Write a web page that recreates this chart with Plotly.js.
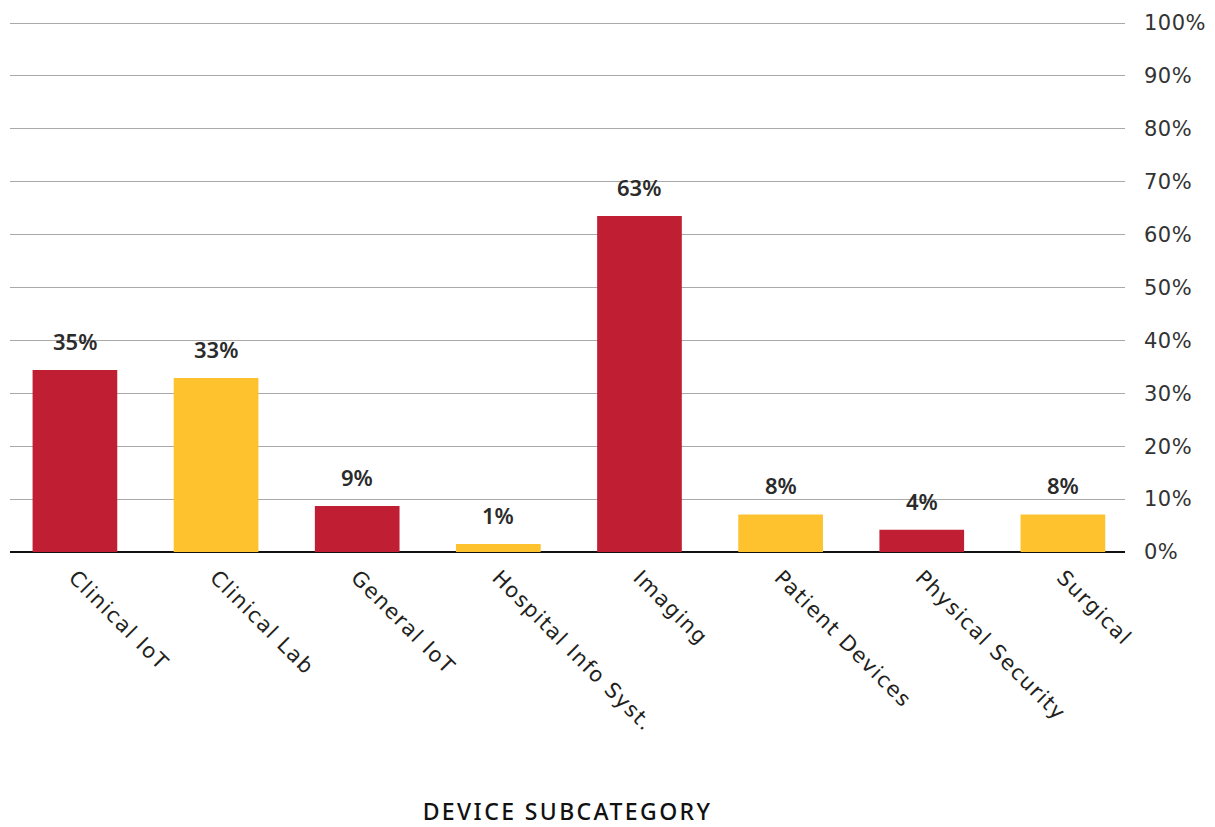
<!DOCTYPE html>
<html>
<head>
<meta charset="utf-8">
<script src="https://cdn.plot.ly/plotly-3.0.1.min.js"></script>
<style>
html,body{margin:0;padding:0;background:#fff;}
#chart{width:1215px;height:827px;}
#chart .xtick text{letter-spacing:1.4px;}
#chart .g-xtitle text{letter-spacing:2.4px;}
#chart .ytick text{letter-spacing:0.5px;}
</style>
</head>
<body>
<div id="chart"></div>
<script>
const categories = ["Clinical IoT","Clinical Lab","General IoT","Hospital Info Syst.","Imaging","Patient Devices","Physical Security","Surgical"];
const values = [34.4, 32.9, 8.7, 1.5, 63.5, 7.1, 4.2, 7.1];
const valueLabels = ["35%","33%","9%","1%","63%","8%","4%","8%"];
const barColors = ["#C01F33","#FDC22E","#C01F33","#FDC22E","#C01F33","#FDC22E","#C01F33","#FDC22E"];
const yTickVals = [0,10,20,30,40,50,60,70,80,90,100];
const yTickText = ["0%","10%","20%","30%","40%","50%","60%","70%","80%","90%","100%"];
const xTitle = "DEVICE SUBCATEGORY";

const font = "'DejaVu Sans', 'Noto Sans', sans-serif";

const trace = {
  type: "bar",
  x: categories,
  y: values,
  marker: {color: barColors, line: {width: 0}},
  hoverinfo: "x+y"
};

const annotations = categories.map((c, i) => ({
  x: c, y: values[i], xref: "x", yref: "y",
  text: valueLabels[i], showarrow: false,
  yanchor: "bottom", yshift: 12,
  font: {family: "'Noto Sans', sans-serif", size: 22, color: "#2b2b2b", weight: 600}
}));

const layout = {
  width: 1215, height: 827,
  margin: {l: 10, r: 90, t: 22, b: 275},
  paper_bgcolor: "#ffffff", plot_bgcolor: "#ffffff",
  bargap: 0.4,
  showlegend: false,
  xaxis: {
    range: [-0.46, 7.44],
    tickangle: 45,
    tickfont: {family: font, size: 21, color: "#231F20"},
    showgrid: false, zeroline: false, showline: false,
    ticks: "", automargin: false, ticklabelstandoff: 8,
    title: {text: xTitle, font: {family: "'Noto Sans', sans-serif", size: 23, color: "#111", weight: 500}, standoff: 97}
  },
  yaxis: {
    side: "right",
    range: [0, 100.2],
    tickvals: yTickVals, ticktext: yTickText,
    tickfont: {family: font, size: 21, color: "#333"},
    showgrid: true, gridcolor: "#a9a9a9", gridwidth: 1,
    zeroline: true, zerolinecolor: "#111", zerolinewidth: 2.5,
    showline: false, ticks: "", ticklabelstandoff: 18,
    automargin: false, fixedrange: true
  },
  annotations: annotations
};

Plotly.newPlot("chart", [trace], layout, {displayModeBar: false, staticPlot: true});
</script>
</body>
</html>
